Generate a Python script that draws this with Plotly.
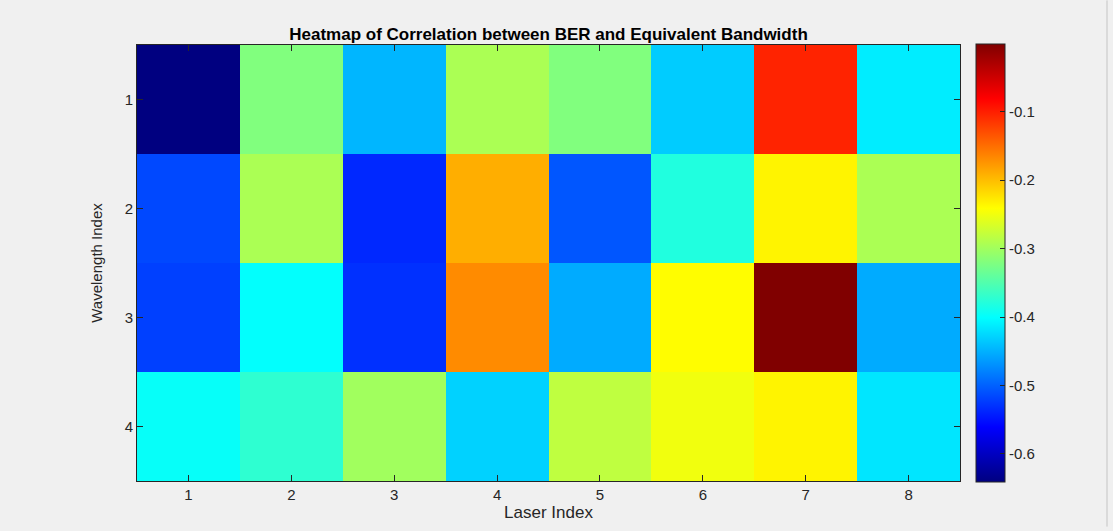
import plotly.graph_objects as go

laser_index = [1, 2, 3, 4, 5, 6, 7, 8]
wavelength_index = [1, 2, 3, 4]

corr_w1 = [-0.641, -0.320, -0.447, -0.294, -0.320, -0.433, -0.103, -0.412]
corr_w2 = [-0.516, -0.294, -0.536, -0.190, -0.507, -0.381, -0.234, -0.294]
corr_w3 = [-0.521, -0.400, -0.531, -0.168, -0.454, -0.240, -0.001, -0.454]
corr_w4 = [-0.397, -0.372, -0.300, -0.429, -0.281, -0.250, -0.234, -0.417]

cbar_ticks = [-0.6, -0.5, -0.4, -0.3, -0.2, -0.1]
cbar_labels = ["-0.6", "-0.5", "-0.4", "-0.3", "-0.2", "-0.1"]

jet = [
    [0.0, "rgb(0,0,128)"],
    [0.125, "rgb(0,0,255)"],
    [0.375, "rgb(0,255,255)"],
    [0.625, "rgb(255,255,0)"],
    [0.875, "rgb(255,0,0)"],
    [1.0, "rgb(128,0,0)"],
]

z = [corr_w1, corr_w2, corr_w3, corr_w4]
zmin = min(min(r) for r in z)
zmax = max(max(r) for r in z)

FONT = "Liberation Sans, Arial, sans-serif"
AX = "#262626"

fig = go.Figure(
    go.Heatmap(
        x=laser_index,
        y=wavelength_index,
        z=z,
        colorscale=jet,
        zmin=zmin,
        zmax=zmax,
        colorbar=dict(
            x=(976 - 137) / 823,
            xanchor="left",
            y=0.5,
            yanchor="middle",
            len=438,
            lenmode="pixels",
            thickness=29,
            thicknessmode="pixels",
            outlinecolor=AX,
            outlinewidth=1,
            tickvals=cbar_ticks,
            ticktext=cbar_labels,
            ticks="inside",
            ticklen=5,
            tickcolor=AX,
            tickfont=dict(family=FONT, size=15, color=AX),
            xpad=0,
            ypad=0,
        ),
        hoverongaps=False,
    )
)

fig.update_layout(
    width=1113,
    height=531,
    margin=dict(l=137, r=153, t=45, b=46),
    paper_bgcolor="#f0f0f0",
    plot_bgcolor="#ffffff",
    title=dict(
        text="<b>Heatmap of Correlation between BER and Equivalent Bandwidth</b>",
        x=(137 + 823 / 2) / 1113,
        xanchor="center",
        y=1 - 34 / 531,
        yanchor="middle",
        font=dict(family=FONT, size=17, color="#000000"),
    ),
    xaxis=dict(
        tickvals=laser_index,
        ticktext=[str(v) for v in laser_index],
        range=[0.5, 8.5],
        ticks="inside",
        ticklen=6,
        tickcolor=AX,
        showline=True,
        linecolor=AX,
        linewidth=1,
        mirror="ticks",
        showgrid=False,
        zeroline=False,
        tickfont=dict(family=FONT, size=15, color=AX),
        title=dict(text="Laser Index", font=dict(family=FONT, size=17, color=AX), standoff=4),
    ),
    yaxis=dict(
        tickvals=wavelength_index,
        ticktext=[str(v) for v in wavelength_index],
        range=[4.5, 0.5],
        ticks="inside",
        ticklen=6,
        tickcolor=AX,
        showline=True,
        linecolor=AX,
        linewidth=1,
        mirror="ticks",
        showgrid=False,
        zeroline=False,
        tickfont=dict(family=FONT, size=15, color=AX),
        title=dict(text="Wavelength Index", font=dict(family=FONT, size=15, color=AX), standoff=18),
    ),
    shapes=[
        dict(
            type="line",
            xref="paper",
            yref="paper",
            x0=(1107 - 137) / 823,
            x1=(1107 - 137) / 823,
            y0=-46 / 440,
            y1=1 + 45 / 440,
            line=dict(color="#c4c4c4", width=1),
        )
    ],
)

fig.write_html("out.html")
